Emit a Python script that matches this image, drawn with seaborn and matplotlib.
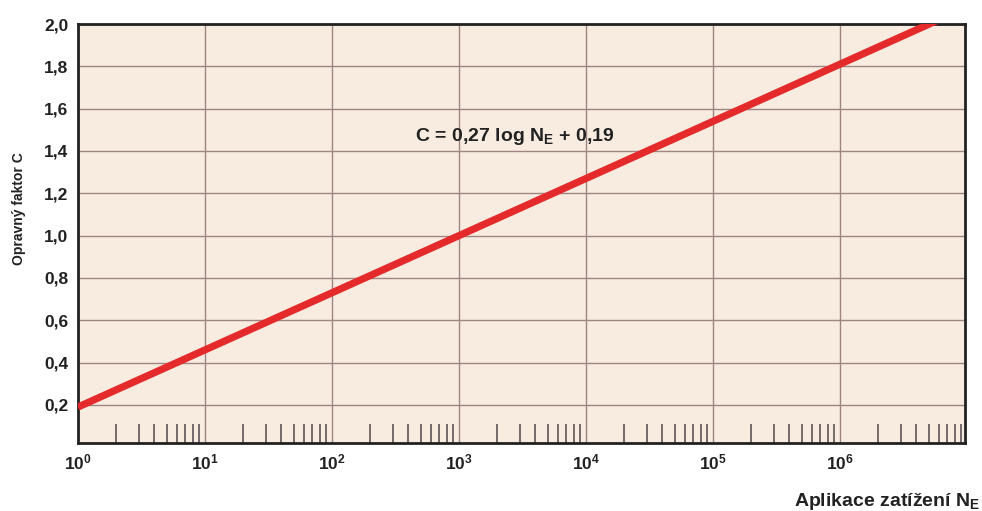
import numpy as np
import pandas as pd
import matplotlib
matplotlib.use("Agg")
import matplotlib.pyplot as plt
import seaborn as sns
from matplotlib.ticker import LogLocator, FixedLocator, FuncFormatter, NullFormatter

# values: C = 0,27 log N_E + 0,19
n_e = [1e0, 1e1, 1e2, 1e3, 1e4, 1e5, 1e6, 1e7]
c_factor = [0.19, 0.46, 0.73, 1.00, 1.27, 1.54, 1.81, 2.08]
y_ticks = [0.2, 0.4, 0.6, 0.8, 1.0, 1.2, 1.4, 1.6, 1.8, 2.0]
decades = [1e0, 1e1, 1e2, 1e3, 1e4, 1e5, 1e6]

df = pd.DataFrame({"N": n_e, "C": c_factor})

sns.set_style("white")
fam = ["Liberation Sans", "DejaVu Sans"]
plt.rcParams["font.family"] = fam
plt.rcParams["font.weight"] = "bold"
plt.rcParams["mathtext.fontset"] = "custom"
plt.rcParams["mathtext.rm"] = "Liberation Sans:bold"
plt.rcParams["mathtext.bf"] = "Liberation Sans:bold"
plt.rcParams["mathtext.it"] = "Liberation Sans:bold"

fig = plt.figure(figsize=(9.82, 5.11), dpi=100)
ax = fig.add_axes([0.0794, 0.133, 0.9033, 0.820])
ax.set_facecolor("#f8ece0")
ax.set_xscale("log")

sns.lineplot(data=df, x="N", y="C", ax=ax, color="#e42a2b", linewidth=5.2,
             solid_capstyle="butt", zorder=3)

ax.set_xlim(1, 10**6.985)
ax.set_ylim(0.02, 2.0)

ax.xaxis.set_major_locator(FixedLocator(decades))
ax.xaxis.set_major_formatter(FuncFormatter(lambda v, p: r"$\mathbf{10^{%d}}$" % round(np.log10(v))))
ax.xaxis.set_minor_locator(LogLocator(base=10, subs=np.arange(2, 10), numticks=20))
ax.xaxis.set_minor_formatter(NullFormatter())
ax.yaxis.set_major_locator(FixedLocator(y_ticks))
ax.yaxis.set_major_formatter(FuncFormatter(lambda v, p: f"{v:.1f}".replace(".", ",")))

ax.grid(True, which="major", color="#a08482", linewidth=1.0, zorder=1)
ax.set_axisbelow(True)
ax.tick_params(axis="both", which="major", length=0, labelsize=12.5, pad=7,
               labelcolor="#222222")
ax.tick_params(axis="x", which="minor", direction="in", length=14, width=1.3,
               color="#6a6060", bottom=True)

for s in ax.spines.values():
    s.set_color("#222222")
    s.set_linewidth(2.0)

ax.set_xlabel("")
ax.set_ylabel("")
fig.text(0.019, 0.592, "Opravný faktor C", rotation=90, ha="center", va="center",
         fontsize=10, fontweight="bold", color="#222222")

fig.text(0.998, 0.010, r"Aplikace zatížení $\mathbf{N_E}$", ha="right", va="baseline",
         fontsize=14, fontweight="bold", color="#222222")
ax.text(10**2.65, 1.47, r"C = 0,27 log $\mathbf{N_E}$ + 0,19", ha="left", va="center",
        fontsize=14, fontweight="bold", color="#222222", zorder=4)

fig.savefig("out.png", dpi=100)
